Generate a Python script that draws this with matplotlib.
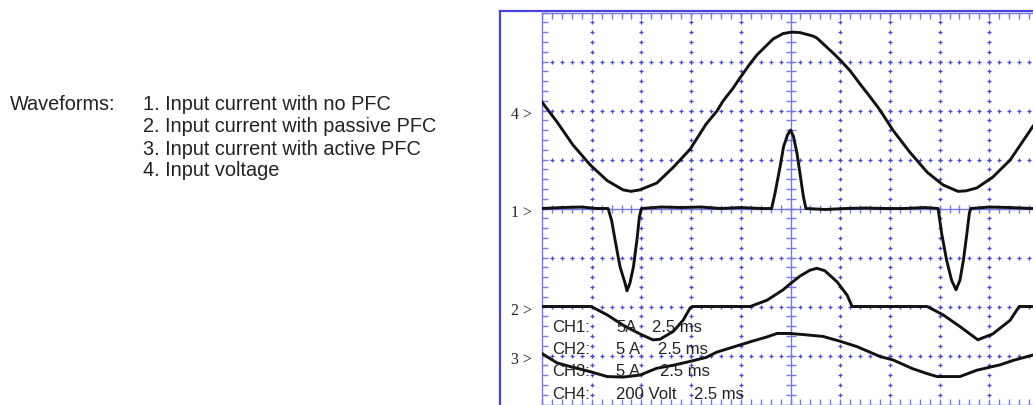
import numpy as np
import matplotlib
matplotlib.use("Agg")
import matplotlib.pyplot as plt
from matplotlib.lines import Line2D
from matplotlib.transforms import blended_transform_factory

# ---------------- data (screen divisions; x: 2.5 ms/div) ----------------
# Channel 4: input voltage (200 V/div), reference at +2 div
ch4_t = [0.00, 0.30, 0.62, 0.97, 1.31, 1.63, 1.79, 1.97, 2.31, 2.64, 2.98, 3.30, 3.52, 3.64,
         3.84, 3.98, 4.19, 4.33, 4.53, 4.65, 4.85, 5.03, 5.19, 5.45, 5.53, 5.86, 6.00, 6.20,
         6.40, 6.60, 6.80, 7.06, 7.40, 7.75, 8.07, 8.37, 8.53, 8.75, 9.07, 9.42, 9.88]
ch4_y = [2.17, 1.77, 1.30, 0.89, 0.57, 0.38, 0.35, 0.38, 0.52, 0.84, 1.21, 1.72, 1.99, 2.19,
         2.45, 2.66, 2.96, 3.14, 3.34, 3.46, 3.57, 3.60, 3.59, 3.52, 3.48, 3.17, 3.03, 2.81,
         2.54, 2.28, 2.01, 1.60, 1.15, 0.74, 0.48, 0.35, 0.36, 0.42, 0.64, 0.99, 1.68]

# Channel 1: input current, no PFC (5 A/div), reference at 0 div
ch1_t = [0.00, 0.40, 0.80, 1.10, 1.33, 1.40, 1.47, 1.57, 1.67, 1.71, 1.77, 1.84, 1.91, 1.96,
         2.00, 2.40, 2.80, 3.20, 3.60, 4.00, 4.40, 4.62, 4.69, 4.79, 4.86, 4.94, 5.00, 5.06,
         5.13, 5.19, 5.26, 5.31, 5.70, 6.10, 6.50, 6.90, 7.30, 7.70, 7.97, 8.04, 8.14, 8.24,
         8.33, 8.41, 8.48, 8.55, 8.60, 8.63, 9.00, 9.40, 9.88]
ch1_y = [0.00, 0.02, 0.03, 0.00, 0.00, -0.24, -0.64, -1.19, -1.52, -1.68, -1.52, -1.19, -0.64, -0.17,
         0.00, 0.03, 0.02, 0.03, 0.00, 0.02, 0.00, 0.00, 0.32, 0.85, 1.26, 1.50, 1.60, 1.47,
         1.13, 0.72, 0.24, 0.00, -0.02, 0.00, 0.01, 0.00, 0.00, 0.02, 0.00, -0.50, -1.05, -1.46,
         -1.66, -1.46, -1.05, -0.50, -0.09, 0.00, 0.03, 0.02, 0.00]

# Channel 2: input current, passive PFC (5 A/div), reference at -2 div
ch2_t = [0.00, 0.99, 1.31, 1.63, 1.97, 2.23, 2.37, 2.64, 2.84, 2.98, 3.04, 3.64, 4.19, 4.53,
         4.85, 4.99, 5.19, 5.39, 5.53, 5.69, 5.94, 6.14, 6.24, 7.75, 8.07, 8.41, 8.77, 9.07,
         9.42, 9.60, 9.88]
ch2_y = [-2.00, -2.00, -2.17, -2.38, -2.56, -2.68, -2.67, -2.51, -2.28, -2.03, -2.00, -2.00, -2.00, -1.87,
         -1.66, -1.54, -1.38, -1.26, -1.22, -1.27, -1.50, -1.77, -2.00, -2.00, -2.17, -2.41, -2.68, -2.56,
         -2.28, -2.00, -2.00]

# Channel 3: input current, active PFC (5 A/div), reference at -3 div
ch3_t = [0.00, 0.30, 0.62, 0.97, 1.31, 1.63, 1.97, 2.31, 2.64, 2.98, 3.30, 3.52, 3.84, 4.19,
         4.53, 4.73, 4.99, 5.33, 5.65, 6.00, 6.34, 6.80, 7.06, 7.46, 7.75, 7.95, 8.41, 8.75,
         9.22, 9.48, 9.88]
ch3_y = [-2.96, -3.15, -3.24, -3.33, -3.43, -3.44, -3.40, -3.26, -3.20, -3.12, -3.04, -2.93, -2.83, -2.72,
         -2.62, -2.55, -2.55, -2.58, -2.61, -2.71, -2.82, -3.02, -3.09, -3.27, -3.37, -3.43, -3.43, -3.30,
         -3.19, -3.10, -2.99]

ref_labels = ["4 >", "1 >", "2 >", "3 >"]
ref_levels = [2, 0, -2, -3]

legend_title = "Waveforms:"
legend_items = ["1. Input current with no PFC",
                "2. Input current with passive PFC",
                "3. Input current with active PFC",
                "4. Input voltage"]

ch_names = ["CH1:", "CH2:", "CH3:", "CH4:"]
ch_scales = ["5A", "5 A", "5 A", "200 Volt"]
ch_times = ["2.5 ms", "2.5 ms", "2.5 ms", "2.5 ms"]

# ---------------- figure ----------------
W, H = 1033, 405
fig = plt.figure(figsize=(W / 100, H / 100), dpi=100)
fig.patch.set_facecolor("white")

def fx(px):
    return px / W

def fy(py):
    return 1 - py / H

BLUE = "#4646dc"
LBLUE = "#7676ee"

grid_left, grid_top, div_w, div_h = 542, 12.5, 49.7, 49.0
ax = fig.add_axes([fx(grid_left), fy(grid_top + 8 * div_h), 10 * div_w / W, 8 * div_h / H])
ax.set_xlim(0, 10)
ax.set_ylim(-4, 4)
for s in ax.spines.values():
    s.set_color(LBLUE)
    s.set_linewidth(1.0)
ax.set_xticks(np.arange(0, 10.01, 1))
ax.set_yticks(np.arange(-4, 4.01, 1))
ax.set_xticks(np.arange(0, 10.01, 0.2), minor=True)
ax.set_yticks(np.arange(-4, 4.01, 0.2), minor=True)
ax.tick_params(which="both", direction="in", length=4.5, width=1.0, color=LBLUE,
               top=True, right=True, labelbottom=False, labelleft=False)

# dotted graticule
fine_x = np.arange(0, 10.001, 0.2)
fine_y = np.arange(-4, 4.001, 0.2)
for gx in range(1, 10):
    if gx != 5:
        ax.plot(np.full_like(fine_y, gx), fine_y, ls="none", marker="+", ms=3.2,
                mew=0.9, color=BLUE, zorder=1)
for gy in range(-3, 4):
    if gy != 0:
        ax.plot(fine_x, np.full_like(fine_x, gy), ls="none", marker="+", ms=3.2,
                mew=0.9, color=BLUE, zorder=1)
# centre axes with ticks
ax.axvline(5, color=LBLUE, lw=1.0, zorder=1)
ax.axhline(0, color=LBLUE, lw=1.0, zorder=1)
ax.plot(np.full_like(fine_y, 5), fine_y, ls="none", marker="_", ms=7, mew=1.0, color=LBLUE, zorder=1)
ax.plot(fine_x, np.zeros_like(fine_x), ls="none", marker="|", ms=6, mew=1.0, color=LBLUE, zorder=1)

# traces
for t, y in [(ch4_t, ch4_y), (ch1_t, ch1_y), (ch2_t, ch2_y), (ch3_t, ch3_y)]:
    ax.plot(t, y, color="#111111", lw=2.1, solid_joinstyle="round", zorder=3)

# reference markers
tr = blended_transform_factory(fig.transFigure, ax.transData)
for lab, lvl in zip(ref_labels, ref_levels):
    ax.text(fx(511), lvl - 0.1, lab, transform=tr, ha="left", va="center",
            fontsize=11.5, family="Liberation Serif", color="#222222", clip_on=False)

# outer frame
fig.add_artist(Line2D([fx(500), fx(500)], [fy(10.7), 0], transform=fig.transFigure,
                      color=BLUE, lw=1.6))
fig.add_artist(Line2D([fx(500), 1], [fy(10.7), fy(10.7)], transform=fig.transFigure,
                      color=BLUE, lw=1.6))

# channel settings text
baselines = [332.5, 354.5, 376.5, 399]
col3 = [652, 658, 660, 694]
for i in range(4):
    kw = dict(fontsize=12, family="Liberation Sans", color="#222222", va="baseline", ha="left", zorder=5)
    fig.text(fx(552), fy(baselines[i]), ch_names[i], **kw)
    fig.text(fx(616), fy(baselines[i]), ch_scales[i], **kw)
    fig.text(fx(col3[i]), fy(baselines[i]), ch_times[i], **kw)

# legend text on the left
fig.text(fx(10), fy(110.5), legend_title, fontsize=14.3, family="Liberation Sans",
         color="#222222", va="baseline", ha="left")
for i, item in enumerate(legend_items):
    fig.text(fx(143), fy(110.5 + 22 * i), item, fontsize=14.3, family="Liberation Sans",
             color="#222222", va="baseline", ha="left")

fig.savefig("out.png", dpi=100)
